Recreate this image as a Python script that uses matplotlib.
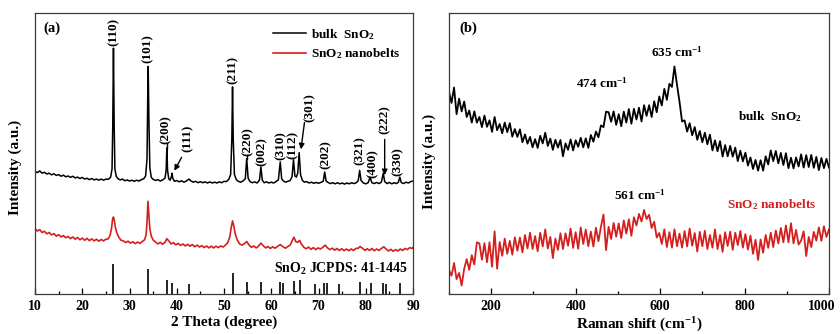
import matplotlib
matplotlib.use("Agg")
import matplotlib.pyplot as plt
import matplotlib.transforms as mtransforms

plt.rcParams['font.family'] = ['Liberation Serif', 'DejaVu Serif']
plt.rcParams['font.weight'] = 'bold'
plt.rcParams['mathtext.fontset'] = 'custom'
plt.rcParams['mathtext.rm'] = 'Liberation Serif:bold'
plt.rcParams['mathtext.bf'] = 'Liberation Serif:bold'
plt.rcParams['mathtext.default'] = 'rm'

# ── (a) XRD data (arbitrary intensity units 0-100) ──
bulk_theta = [
    10.0, 10.5, 11.0, 11.5, 12.0, 12.5, 13.0, 13.5, 14.0, 14.5, 15.0, 15.5, 16.0, 16.5,
    17.0, 17.5, 18.0, 18.5, 19.0, 19.5, 20.0, 20.5, 21.0, 21.5, 22.0, 22.5, 23.0, 23.5,
    24.0, 24.5, 25.0, 25.5, 26.0, 26.3, 26.45, 26.6, 26.75, 26.9, 27.2, 27.6, 28.0, 28.5,
    29.0, 29.5, 30.0, 30.5, 31.0, 31.5, 32.0, 32.5, 33.0, 33.4, 33.7, 33.85, 33.95, 34.1,
    34.3, 34.6, 35.0, 35.5, 36.0, 36.5, 37.0, 37.5, 37.75, 37.9, 38.05, 38.3, 38.6, 38.9,
    39.0, 39.15, 39.5, 40.0, 40.5, 41.0, 41.5, 42.0, 42.6, 43.0, 43.5, 44.0, 44.5, 45.0,
    45.5, 46.0, 46.5, 47.0, 47.5, 48.0, 48.5, 49.0, 49.5, 50.0, 50.5, 51.0, 51.4, 51.65,
    51.8, 51.95, 52.2, 52.6, 53.0, 53.5, 54.0, 54.5, 54.8, 55.1, 55.5, 56.0, 56.5, 57.0,
    57.5, 57.8, 58.1, 58.5, 59.0, 59.5, 60.0, 60.5, 61.0, 61.5, 61.9, 62.2, 62.6, 63.0,
    63.5, 64.0, 64.4, 64.7, 65.0, 65.3, 65.6, 65.9, 66.2, 66.6, 67.0, 67.5, 68.0, 68.5,
    69.0, 69.5, 70.0, 70.5, 71.0, 71.3, 71.6, 72.0, 72.5, 73.0, 73.5, 74.0, 74.5, 75.0,
    75.5, 76.0, 76.5, 77.0, 77.5, 78.0, 78.4, 78.7, 79.0, 79.5, 80.0, 80.5, 80.9, 81.3,
    81.8, 82.3, 82.8, 83.3, 83.7, 84.0, 84.5, 85.0, 85.5, 86.0, 86.5, 86.9, 87.2, 87.5,
    88.0, 88.5, 89.0, 89.5, 90.0]
bulk_int = [
    43.6, 43.2, 43.8, 43.0, 43.3, 42.7, 43.0, 42.4, 42.8, 42.2, 42.5, 41.9, 42.3, 41.7,
    42.0, 41.5, 41.9, 41.3, 41.6, 41.1, 41.5, 40.9, 41.2, 40.7, 41.1, 40.6, 40.9, 40.5,
    40.9, 40.5, 40.9, 40.8, 41.6, 44.5, 60.0, 87.5, 60.0, 44.5, 41.8, 41.0, 40.6, 40.9,
    40.3, 40.6, 40.2, 40.5, 40.1, 40.5, 40.2, 40.7, 41.0, 42.0, 48.0, 70.0, 81.0, 62.0,
    45.0, 41.5, 40.8, 40.4, 40.7, 40.2, 40.6, 41.2, 44.0, 52.0, 44.0, 41.0, 40.5, 42.0,
    43.0, 41.2, 40.1, 40.4, 39.9, 40.3, 39.8, 40.2, 40.9, 40.2, 39.8, 40.1, 39.6, 40.0,
    39.6, 39.9, 39.5, 39.9, 39.5, 39.8, 39.5, 39.9, 39.6, 40.1, 40.0, 40.8, 42.5, 55.0,
    73.7, 55.0, 42.5, 40.7, 40.1, 39.8, 40.2, 41.0, 48.2, 41.2, 40.0, 39.6, 39.9, 39.5,
    40.5, 45.2, 40.5, 39.6, 39.9, 39.5, 39.8, 39.5, 40.0, 40.6, 47.0, 41.0, 40.2, 39.8,
    40.1, 40.4, 41.8, 47.8, 42.0, 41.6, 43.0, 50.3, 42.4, 40.4, 39.8, 40.0, 39.5, 39.8,
    39.4, 39.7, 39.4, 39.7, 40.1, 43.4, 40.2, 39.7, 39.3, 39.6, 39.2, 39.6, 39.2, 39.5,
    39.1, 39.5, 39.2, 39.6, 39.3, 39.6, 40.3, 44.0, 40.4, 39.5, 39.2, 39.6, 41.5, 39.6,
    39.3, 39.7, 39.3, 39.8, 43.0, 40.0, 39.3, 39.7, 39.2, 39.6, 39.3, 39.8, 41.6, 39.7,
    39.3, 39.8, 39.5, 40.0, 40.2]

belt_theta = [
    10.0, 10.5, 11.0, 11.5, 12.0, 12.5, 13.0, 13.5, 14.0, 14.5, 15.0, 15.5, 16.0, 16.5,
    17.0, 17.5, 18.0, 18.5, 19.0, 19.5, 20.0, 20.5, 21.0, 21.5, 22.0, 22.5, 23.0, 23.5,
    24.0, 24.5, 25.0, 25.5, 25.9, 26.2, 26.4, 26.6, 26.8, 27.0, 27.3, 27.7, 28.2, 28.7,
    29.2, 29.7, 30.2, 30.7, 31.2, 31.7, 32.2, 32.7, 33.2, 33.5, 33.7, 33.9, 34.1, 34.3,
    34.6, 35.0, 35.5, 36.0, 36.5, 37.0, 37.5, 37.9, 38.3, 38.8, 39.3, 39.8, 40.3, 40.8,
    41.3, 41.8, 42.3, 42.8, 43.3, 43.8, 44.3, 44.8, 45.3, 45.8, 46.3, 46.8, 47.3, 47.8,
    48.3, 48.8, 49.3, 49.8, 50.3, 50.8, 51.2, 51.5, 51.8, 52.1, 52.4, 52.8, 53.3, 53.8,
    54.3, 54.8, 55.3, 55.8, 56.3, 56.8, 57.3, 57.8, 58.3, 58.8, 59.3, 59.8, 60.3, 60.8,
    61.3, 61.9, 62.5, 63.0, 63.5, 64.0, 64.4, 64.8, 65.2, 65.6, 66.0, 66.4, 66.9, 67.4,
    67.9, 68.4, 68.9, 69.4, 69.9, 70.4, 70.9, 71.4, 71.9, 72.4, 72.9, 73.4, 73.9, 74.4,
    74.9, 75.4, 75.9, 76.4, 76.9, 77.4, 77.9, 78.4, 78.8, 79.3, 79.8, 80.3, 80.8, 81.3,
    81.8, 82.3, 82.8, 83.3, 83.8, 84.3, 84.8, 85.3, 85.8, 86.3, 86.8, 87.3, 87.8, 88.3,
    88.8, 89.3, 89.8, 90.0]
belt_int = [
    23.3, 22.4, 22.9, 21.9, 22.3, 21.4, 21.9, 21.0, 21.5, 20.6, 21.1, 20.3, 20.8, 20.0,
    20.5, 19.7, 20.3, 19.5, 20.1, 19.3, 19.9, 19.1, 19.8, 19.0, 19.6, 18.9, 19.5, 18.8,
    19.4, 18.9, 19.5, 19.6, 21.0, 23.5, 26.5, 27.4, 26.0, 23.8, 21.8, 20.3, 19.1, 18.9,
    18.3, 18.8, 18.1, 18.6, 17.9, 18.5, 18.0, 18.7, 19.3, 21.0, 25.5, 33.0, 28.0, 23.2,
    20.6, 19.2, 18.5, 17.8, 18.4, 17.7, 18.4, 19.7, 18.9, 17.8, 18.3, 17.5, 18.0, 17.3,
    17.8, 17.1, 17.7, 17.0, 17.6, 16.8, 17.4, 16.7, 17.2, 16.5, 17.1, 16.4, 17.0, 16.4,
    17.0, 16.5, 17.1, 16.7, 17.4, 18.3, 20.2, 23.4, 26.0, 24.0, 21.2, 19.2, 17.8, 17.4,
    17.9, 18.7, 17.4, 16.6, 17.1, 16.4, 17.0, 18.1, 17.2, 16.4, 16.9, 16.2, 16.8, 16.3,
    16.9, 17.6, 16.8, 16.3, 16.9, 17.4, 18.9, 20.2, 18.6, 18.4, 19.1, 17.7, 16.6, 16.1,
    16.7, 15.9, 16.5, 15.8, 16.4, 16.0, 16.6, 17.4, 16.4, 15.8, 16.3, 15.6, 16.2, 15.5,
    16.1, 15.4, 16.0, 15.4, 16.0, 15.5, 16.2, 16.3, 16.9, 16.3, 15.5, 16.1, 15.5, 16.2,
    15.4, 16.0, 15.5, 16.2, 16.8, 16.0, 15.3, 15.9, 15.2, 15.8, 15.3, 16.0, 15.5, 16.2,
    15.8, 16.5, 16.2, 16.6]

# standard pattern SnO2 JCPDS 41-1445
jcpds_theta = [26.6, 33.9, 37.9, 38.9, 42.6, 51.8, 54.8, 57.8, 61.8, 62.5, 64.8,
               66.0, 69.2, 71.2, 71.8, 74.4, 78.7, 81.1, 83.7, 84.2, 87.2]
jcpds_int = [10.7, 8.9, 5.0, 3.9, 3.6, 7.5, 4.3, 4.3, 4.3, 3.9, 4.6,
             5.0, 3.4, 3.9, 3.9, 3.4, 4.1, 3.9, 3.9, 3.6, 3.9]

# peak labels: (text, theta, height of label centre)
hkl_labels = ["(110)", "(101)", "(200)", "(111)", "(211)", "(220)", "(002)", "(310)",
              "(112)", "(301)", "(202)", "(321)", "(400)", "(222)", "(330)"]
hkl_x = [26.7, 33.9, 37.6, 42.2, 51.9, 54.9, 58.0, 61.9, 64.6, 68.2, 71.6, 78.8, 81.4, 84.0, 86.8]
hkl_y = [93.2, 87.5, 58.7, 55.5, 79.7, 54.1, 50.7, 52.8, 53.2, 66.2, 49.5, 51.2, 46.5, 62.0, 47.2]

# ── (b) Raman data ──
raman_shift = [
    100, 106, 112, 118, 124, 130, 136, 142, 148, 154, 160, 166, 172, 178, 184, 190,
    196, 202, 208, 214, 220, 226, 232, 238, 244, 250, 256, 262, 268, 274, 280, 286,
    292, 298, 304, 310, 316, 322, 328, 334, 340, 346, 352, 358, 364, 370, 376, 382,
    388, 394, 400, 406, 412, 418, 424, 430, 436, 442, 448, 454, 460, 466, 472, 478,
    484, 490, 496, 502, 508, 514, 520, 526, 532, 538, 544, 550, 556, 562, 568, 574,
    580, 586, 592, 598, 604, 610, 616, 622, 628, 634, 640, 646, 652, 658, 664, 670,
    676, 682, 688, 694, 700, 706, 712, 718, 724, 730, 736, 742, 748, 754, 760, 766,
    772, 778, 784, 790, 796, 802, 808, 814, 820, 826, 832, 838, 844, 850, 856, 862,
    868, 874, 880, 886, 892, 898, 904, 910, 916, 922, 928, 934, 940, 946, 952, 958,
    964, 970, 976, 982, 988, 994, 1000]
raman_bulk = [
    72.0, 68.0, 73.5, 64.0, 69.5, 65.0, 68.5, 63.0, 65.3, 61.0, 65.0, 61.0, 63.0, 59.4, 63.5, 59.5,
    61.8, 57.7, 63.0, 58.3, 60.5, 57.2, 61.0, 57.6, 60.8, 56.0, 58.7, 55.9, 58.6, 54.0, 56.8, 53.5,
    55.9, 52.2, 55.1, 52.0, 56.3, 53.6, 57.4, 52.7, 55.3, 51.3, 54.9, 52.1, 54.8, 49.0, 53.6, 51.3,
    55.0, 51.1, 54.7, 52.4, 55.6, 52.2, 55.4, 52.0, 56.6, 54.2, 57.8, 55.8, 60.0, 59.4, 64.9, 64.7,
    61.3, 65.0, 60.2, 64.0, 59.7, 64.9, 61.0, 65.8, 60.6, 65.9, 62.1, 66.3, 61.4, 67.2, 63.4, 67.2,
    63.0, 68.6, 64.7, 70.3, 67.1, 73.0, 69.1, 74.8, 73.7, 81.0, 74.5, 68.4, 61.4, 61.8, 57.8, 60.8,
    56.5, 59.4, 54.9, 58.0, 54.0, 57.4, 53.3, 56.7, 51.1, 54.7, 50.8, 54.4, 48.9, 53.0, 49.0, 52.7,
    48.9, 52.1, 47.3, 51.0, 47.2, 50.3, 45.7, 48.6, 44.5, 47.7, 43.9, 47.6, 43.9, 49.0, 46.1, 51.1,
    47.3, 50.9, 46.5, 50.2, 45.9, 50.1, 44.8, 48.5, 44.7, 48.6, 45.4, 49.7, 45.0, 49.4, 45.2, 49.5,
    44.9, 48.8, 44.1, 48.4, 44.8, 48.1, 45.0]
raman_belt = [
    8.5, 6.5, 11.0, 5.3, 7.5, 3.0, 9.0, 12.4, 8.6, 13.8, 10.5, 18.4, 18.0, 12.2, 18.1, 11.3,
    18.4, 9.7, 22.3, 9.0, 18.5, 13.6, 19.7, 14.3, 18.9, 14.0, 20.2, 15.4, 20.1, 14.8, 21.0, 16.2,
    21.8, 16.0, 20.6, 15.2, 21.8, 16.9, 23.0, 16.2, 20.3, 12.8, 19.7, 15.7, 21.6, 16.0, 21.6, 17.2,
    23.3, 16.4, 22.0, 16.1, 23.7, 17.8, 22.9, 17.0, 22.2, 16.9, 23.6, 18.8, 24.0, 28.3, 15.6, 23.9,
    19.6, 25.3, 20.4, 25.1, 19.9, 26.2, 21.5, 26.6, 20.7, 27.3, 24.4, 28.5, 25.8, 29.9, 26.7, 28.2,
    23.5, 25.7, 20.1, 21.7, 17.8, 23.0, 16.7, 22.0, 16.5, 23.0, 17.0, 21.5, 16.5, 22.4, 16.9, 23.3,
    17.2, 21.7, 15.1, 22.1, 17.0, 22.5, 16.0, 21.0, 16.5, 23.0, 16.0, 21.0, 15.0, 22.0, 17.1, 22.2,
    15.7, 21.8, 17.4, 22.4, 16.5, 21.3, 15.8, 20.8, 14.3, 19.3, 12.1, 19.4, 14.7, 21.0, 16.4, 21.8,
    16.7, 22.6, 18.0, 23.5, 18.4, 24.4, 18.4, 25.2, 18.0, 22.8, 17.6, 19.0, 22.3, 13.5, 20.3, 16.7,
    22.1, 19.0, 23.7, 18.9, 24.1, 20.3, 23.0]

RED = "#d41f1f"
SPINE = "#3a3a3a"

fig = plt.figure(figsize=(8.4, 3.34), dpi=100)
ax1 = fig.add_axes([0.0417, 0.1198, 0.45, 0.8412])
ax2 = fig.add_axes([0.5345, 0.1198, 0.4524, 0.8412])


def style_axes(ax):
    for s in ax.spines.values():
        s.set_color(SPINE)
        s.set_linewidth(0.9)
    ax.tick_params(axis="x", which="both", direction="in", top=False, labelsize=10,
                   colors="black", pad=4)
    ax.tick_params(axis="x", which="major", length=4, width=0.9)
    ax.tick_params(axis="x", which="minor", length=2, width=0.9)
    ax.set_yticks([])
    for lab in ax.get_xticklabels():
        lab.set_fontweight("bold")


# ── (a) XRD ──
ax1.plot(bulk_theta, bulk_int, color="black", lw=1.1, label=r"bulk  SnO$_2$")
ax1.plot(belt_theta, belt_int, color=RED, lw=1.2, label=r"SnO$_2$ nanobelts")
ax1.vlines(jcpds_theta, 0, jcpds_int, color="black", lw=1.2)
ax1.set_xlim(10, 90)
ax1.set_ylim(0, 100)
ax1.set_xticks(range(10, 91, 10))
ax1.set_xticks(range(15, 90, 10), minor=True)
style_axes(ax1)
ax1.set_xlabel("2 Theta (degree)", fontsize=11, fontweight="bold", labelpad=2)
ax1.set_ylabel("Intensity (a.u.)", fontsize=11, fontweight="bold")
ax1.yaxis.set_label_coords(-0.035, 0.45)

for lab, x, y in zip(hkl_labels, hkl_x, hkl_y):
    ax1.text(x, y, lab, rotation=90, ha="center", va="center", fontsize=9.5,
             fontweight="bold")

# leader lines and arrows to the small peaks
ax1.plot([37.9, 37.9], [52.0, 53.6], color="black", lw=1.0)
ax1.plot([54.85, 54.85], [48.0, 49.0], color="black", lw=1.0)
arrow = dict(arrowstyle="-|>", color="black", lw=1.0, mutation_scale=8)
ax1.annotate("", xy=(39.2, 43.0), xytext=(41.3, 49.5), arrowprops=arrow)
ax1.annotate("", xy=(66.2, 50.5), xytext=(67.1, 62.0), arrowprops=arrow)
ax1.annotate("", xy=(84.0, 41.3), xytext=(84.0, 56.0), arrowprops=arrow)

ax1.text(0.045, 0.947, "(a)", transform=ax1.transAxes, ha="center", va="center",
         fontsize=10.5, fontweight="bold")
ax1.text(74.8, 9.0, r"SnO$_2$ JCPDS: 41-1445", ha="center", va="center",
         fontsize=10, fontweight="bold")
ax1.legend(loc="upper left", bbox_to_anchor=(0.615, 0.97), frameon=False, fontsize=9.5,
           handlelength=2.5, handletextpad=0.4, labelspacing=0.35, borderaxespad=0)

# ── (b) Raman ──
ax2.plot(raman_shift, raman_bulk, color="black", lw=1.3)
ax2.plot(raman_shift, raman_belt, color=RED, lw=1.3)
ax2.set_xlim(100, 1000)
ax2.set_ylim(0, 100)
ax2.set_xticks(range(200, 1001, 200))
ax2.set_xticks(range(100, 1000, 200), minor=True)
style_axes(ax2)
# keep the "1000" label inside the canvas
last = ax2.get_xticklabels()[-1]
last.set_transform(last.get_transform() +
                   mtransforms.ScaledTranslation(-5 / 72, 0, fig.dpi_scale_trans))
ax2.set_xlabel(r"Raman shift (cm$^{-1}$)", fontsize=11, fontweight="bold", labelpad=2)
ax2.set_ylabel("Intensity (a.u.)", fontsize=11, fontweight="bold")
ax2.yaxis.set_label_coords(-0.035, 0.47)

ax2.text(0.05, 0.947, "(b)", transform=ax2.transAxes, ha="center", va="center",
         fontsize=10.5, fontweight="bold")
ax2.text(640, 86.1, r"635 cm$^{-1}$", ha="center", va="center", fontsize=9.5)
ax2.text(462, 75.1, r"474 cm$^{-1}$", ha="center", va="center", fontsize=9.5)
ax2.text(784, 63.0, r"bulk  SnO$_2$", ha="left", va="center", fontsize=9.5)
ax2.text(552, 35.2, r"561 cm$^{-1}$", ha="center", va="center", fontsize=9.5)
ax2.text(758, 31.7, r"SnO$_2$ nanobelts", ha="left", va="center", fontsize=9.5, color=RED)

fig.savefig("out.png", dpi=100)
